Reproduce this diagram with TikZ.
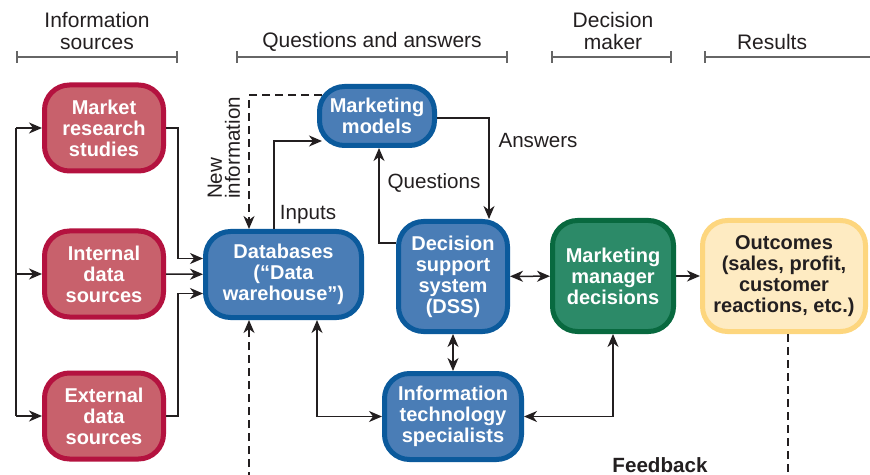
\documentclass[tikz,border=0pt]{standalone}
\usepackage{fontspec}
\setmainfont{Liberation Sans}
\usetikzlibrary{arrows.meta,calc}
\definecolor{srcline}{HTML}{B4123F}
\definecolor{srcfill}{HTML}{C8616C}
\definecolor{qaline}{HTML}{0B5A9C}
\definecolor{qafill}{HTML}{4A7DB6}
\definecolor{mgrline}{HTML}{08693F}
\definecolor{mgrfill}{HTML}{2C8A68}
\definecolor{outline}{HTML}{FDD67E}
\definecolor{outfill}{HTML}{FEEBC2}
\definecolor{inkdark}{HTML}{231F20}
\colorlet{hdrgray}{black!60}
\tikzset{
  boxbase/.style={draw, line width=2.5pt, rounded corners=12.5pt, inner sep=0pt, align=center,
    font=\fontsize{10}{10.5}\selectfont\bfseries, text=white},
  srcbox/.style={boxbase, draw=srcline, fill=srcfill, minimum width=59.5pt, minimum height=43pt},
  qabox/.style={boxbase, draw=qaline, fill=qafill},
  mgrbox/.style={boxbase, draw=mgrline, fill=mgrfill},
  outbox/.style={boxbase, draw=outline, fill=outfill, text=inkdark},
  conn/.style={line width=0.75pt, inkdark, -{Stealth[length=6.5pt, width=5.5pt, inset=2pt]}},
  dconn/.style={conn, {Stealth[length=6.5pt, width=5.5pt, inset=2pt]}-{Stealth[length=6.5pt, width=5.5pt, inset=2pt]}},
  plain/.style={line width=0.75pt, inkdark},
  fbline/.style={line width=0.75pt, inkdark, dash pattern=on 4pt off 2.5pt},
  hdrline/.style={line width=1pt, hdrgray, {Bar[width=6pt]}-{Bar[width=6pt]}},
  hdrtext/.style={align=center, inkdark, font=\fontsize{10.5}{11}\selectfont},
  lbl/.style={inkdark, font=\fontsize{10.3}{10.5}\selectfont},
}
\begin{document}
\begin{tikzpicture}[x=0.5pt,y=-0.5pt]
\useasboundingbox (0,0) rectangle (870,475);
% headings
\node[hdrtext] (hsrc) at (97,31) {Information\\sources};
\node[hdrtext] (hqa) at (372,42) {Questions and answers};
\node[hdrtext] (hdm) at (613,31) {Decision\\maker};
\node[hdrtext] (hres) at (772,42) {Results};
\draw[hdrline] (16,57) -- (178,57);
\draw[hdrline] (236,57) -- (508,57);
\draw[hdrline] (551,57) -- (672,57);
\draw[hdrline] (704,57) -- (875,57);
% boxes
\node[srcbox] (market) at (104,128) {Market\\research\\studies};
\node[srcbox] (internal) at (104,274) {Internal\\data\\sources};
\node[srcbox] (external) at (104,416) {External\\data\\sources};
\node[qabox, minimum width=78pt, minimum height=43pt] (db) at (283.5,274.5) {Databases\\(“Data\\warehouse”)};
\node[qabox, minimum width=57.5pt, minimum height=29.5pt] (models) at (377,116) {Marketing\\models};
\node[qabox, minimum width=54.5pt, minimum height=55pt] (dss) at (453,276.5) {Decision\\support\\system\\(DSS)};
\node[qabox, minimum width=68.5pt, minimum height=43pt] (it) at (453,416.5) {Information\\technology\\specialists};
\node[mgrbox, minimum width=60.5pt, minimum height=55.5pt] (mgr) at (613,276) {Marketing\\manager\\decisions};
\node[outbox, minimum width=81.5pt, minimum height=55.5pt] (out) at (784,276) {Outcomes\\(sales, profit,\\customer\\reactions, etc.)};
% sources into databases
\coordinate (spinetop) at (16,128);
\coordinate (spinebot) at (16,416);
\draw[plain] (spinetop) -- (spinebot);
\draw[conn] (spinetop) -- (market);
\draw[conn] (spinetop |- internal) -- (internal);
\draw[conn] (spinebot) -- (external);
\draw[conn] (market.east) -- ++(12,0) |- ($(db.west)+(0,-16)$);
\draw[conn] (internal) -- (db);
\draw[conn] (external.east) -- ++(12,0) |- ($(db.west)+(0,19)$);
% questions and answers loop
\draw[conn] ($(db.north)+(-9.5,0)$) |- ($(models.west)+(5,25)$);
\node[lbl] (inputs) at (308,215) {Inputs};
\draw[fbline, -{Stealth[length=6.5pt, width=5.5pt, inset=2pt]}] ($(models.west)+(5,-21)$) -| ($(db.north)+(-34.5,0)$);
\node[lbl, rotate=90, align=left, font=\fontsize{10.3}{9}\selectfont] (newinfo) at (224,148) {New\\information};
\draw[conn] ($(models.east)+(0,2)$) -| ($(dss.north)+(36,0)$);
\node[lbl] (answers) at (538,141) {Answers};
\draw[conn] ($(dss.west)+(0,-33.5)$) -| ($(models.south)+(2,0)$);
\node[lbl] (questions) at (434,183) {Questions};
% decision links
\draw[dconn] (dss) -- (mgr);
\draw[conn] (mgr) -- (out);
\draw[dconn] (dss) -- (it);
\draw[dconn] ($(db.south)+(33.5,0)$) |- (it.west);
\draw[dconn] (mgr.south) |- (it.east);
% feedback
\coordinate (fbend) at (788,480);
\coordinate (fbstart) at (249,480);
\draw[fbline] ($(out.south)+(4,0)$) -- (fbend);
\draw[fbline, -{Stealth[length=6.5pt, width=5.5pt, inset=2pt]}] (fbstart) -- ($(db.south)+(-34.5,0)$);
\node[lbl, font=\fontsize{10.3}{10.5}\selectfont\bfseries] (feedback) at (660,465) {Feedback};
\end{tikzpicture}
\end{document}
